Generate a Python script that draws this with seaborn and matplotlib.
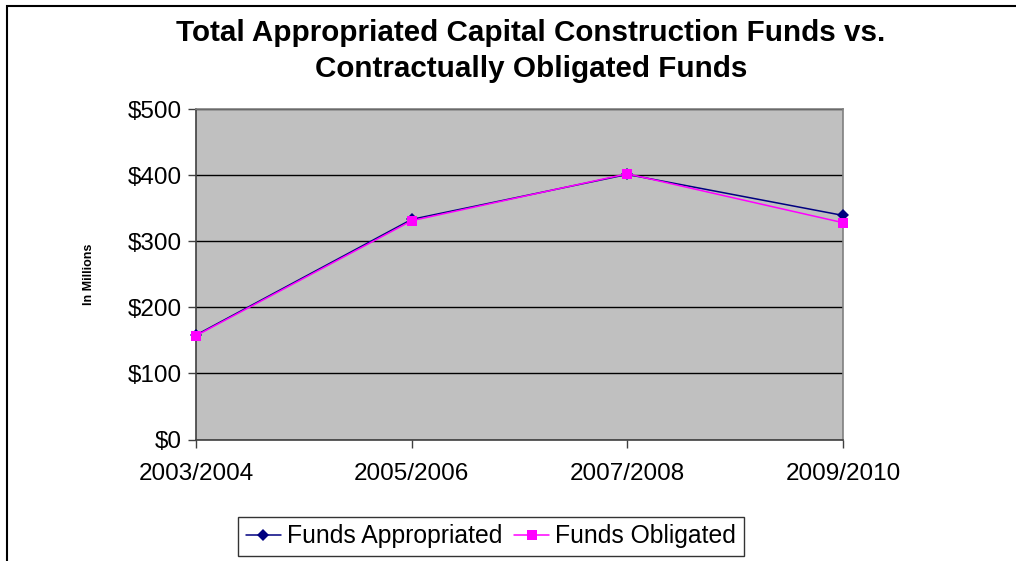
import matplotlib
matplotlib.use("Agg")
import matplotlib.pyplot as plt
import seaborn as sns
import pandas as pd
from matplotlib.patches import Rectangle

periods = ["2003/2004", "2005/2006", "2007/2008", "2009/2010"]
funds_appropriated = [158, 333, 401, 339]
funds_obligated = [157, 331, 402, 328]
y_ticks = [0, 100, 200, 300, 400, 500]
y_tick_labels = ["$0", "$100", "$200", "$300", "$400", "$500"]

sns.set_theme(style="white")
plt.rcParams["font.family"] = ["Liberation Sans", "DejaVu Sans"]
plt.rcParams["text.color"] = "black"
plt.rcParams["axes.labelcolor"] = "black"
plt.rcParams["xtick.color"] = "black"
plt.rcParams["ytick.color"] = "black"

df = pd.DataFrame({
    "pos": list(range(len(periods))) * 2,
    "value": funds_appropriated + funds_obligated,
    "series": ["Funds Appropriated"] * len(periods) + ["Funds Obligated"] * len(periods),
})

fig = plt.figure(figsize=(10.16, 5.61), dpi=100)
fig.patch.set_facecolor("white")
ax = fig.add_axes([196 / 1016, 1 - 439.5 / 561, 647 / 1016, 330.5 / 561])
ax.set_facecolor("#C0C0C0")

sns.lineplot(data=df, x="pos", y="value", hue="series", style="series",
             palette={"Funds Appropriated": "#000080", "Funds Obligated": "#FF00FF"},
             markers={"Funds Appropriated": "D", "Funds Obligated": "s"},
             dashes=False, linewidth=1.1, markersize=7, markeredgewidth=0,
             ax=ax, legend=True)
for line in ax.lines:
    line.set_clip_on(False)
    line.set_zorder(5)
    if line.get_marker() == "D":
        line.set_markersize(6.5)

ax.set_xlim(0, 3)
ax.set_ylim(0, 500)
ax.set_xticks(range(len(periods)))
ax.set_xticklabels(periods, fontsize=17.5)
ax.set_yticks(y_ticks)
ax.set_yticklabels(y_tick_labels, fontsize=17.5)
ax.yaxis.grid(True, color="black", linewidth=1.0)
ax.xaxis.grid(False)
ax.set_axisbelow(True)
ax.tick_params(axis="y", which="major", direction="out", length=6, width=1,
               color="#404040", pad=4, left=True)
ax.tick_params(axis="x", which="major", direction="out", length=6, width=1,
               color="#404040", pad=11, bottom=True)
for side in ["left", "bottom"]:
    ax.spines[side].set_color("#404040")
    ax.spines[side].set_linewidth(1.2)
for side in ["top", "right"]:
    ax.spines[side].set_color("#808080")
    ax.spines[side].set_linewidth(1.2)
ax.set_xlabel("")
ax.set_ylabel("In Millions", fontsize=9, fontweight="bold", labelpad=24)

handles, labels = ax.get_legend_handles_labels()
ax.legend_.remove()
leg = fig.legend(handles, labels, loc="center", bbox_to_anchor=(491 / 1016, 1 - 536.5 / 561),
                 ncol=2, fontsize=17.8, frameon=True, fancybox=False, edgecolor="black",
                 handlelength=1.4, handletextpad=0.25, columnspacing=0.5,
                 borderpad=0.3, borderaxespad=0)
leg.get_frame().set_linewidth(1.0)

fig.text(531 / 1016, 1 - 51 / 561,
         "Total Appropriated Capital Construction Funds vs.\nContractually Obligated Funds",
         ha="center", va="center", fontsize=21.3, fontweight="bold", linespacing=1.32,
         color="black")

fig.patches.append(Rectangle((7 / 1016, -0.05), 1.2, 1 - 6 / 561 + 0.05, transform=fig.transFigure,
                             fill=False, edgecolor="black", linewidth=1.5))

fig.savefig("out.png", dpi=100)
